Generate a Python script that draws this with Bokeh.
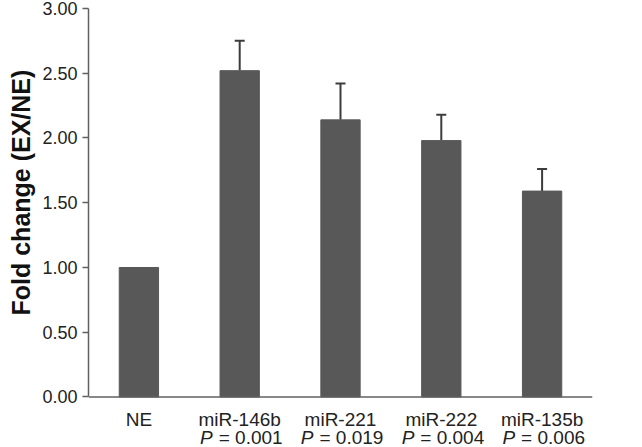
from bokeh.plotting import figure
from bokeh.models import (ColumnDataSource, FactorRange, Range1d, FixedTicker,
                          NumeralTickFormatter, Whisker, TeeHead, Span, Title)
from bokeh.core.properties import value
from bokeh.embed import file_html
from bokeh.resources import INLINE

categories = ["NE", "miR-146b", "miR-221", "miR-222", "miR-135b"]
means = [1.00, 2.52, 2.14, 1.98, 1.59]
errors = [0.0, 0.23, 0.28, 0.20, 0.17]
p_values = ["", "0.001", "0.019", "0.004", "0.006"]
y_ticks = [0.0, 0.5, 1.0, 1.5, 2.0, 2.5, 3.0]

FONT = "Liberation Sans"
BAR = "#585858"
TXT = "#222222"

upper = [m + e for m, e in zip(means, errors)]
src = ColumnDataSource(dict(cat=categories, mean=means, upper=upper,
                            zero=[0.0] * len(categories)))
err_idx = [i for i, e in enumerate(errors) if e > 0]
err_src = ColumnDataSource(dict(cat=[categories[i] for i in err_idx],
                                mean=[means[i] for i in err_idx],
                                upper=[upper[i] for i in err_idx]))
p_src = ColumnDataSource(dict(cat=[categories[i] for i in err_idx],
                              zero=[0.0] * len(err_idx),
                              ptxt=["= " + p_values[i] for i in err_idx],
                              pchar=["P"] * len(err_idx)))

p = figure(x_range=FactorRange(*categories, range_padding=0),
           y_range=Range1d(-0.39, 3),
           width=626, height=447, output_backend="svg", toolbar_location=None,
           min_border_left=80, min_border_right=34, min_border_top=8,
           min_border_bottom=0)
p.outline_line_color = None
p.xgrid.grid_line_color = None
p.ygrid.grid_line_color = None
p.xaxis.visible = False

p.vbar(x="cat", top="mean", width=0.39, source=src, fill_color=BAR,
       line_color=BAR)

w = Whisker(source=err_src, base="cat", lower="mean", upper="upper",
            dimension="height", line_color="#3c3c3c", line_width=2,
            upper_head=TeeHead(size=10, line_color="#3c3c3c", line_width=2),
            lower_head=None, level="underlay")
p.add_layout(w)

# x axis line at zero
p.add_layout(Span(location=0, dimension="width", line_color="#606060",
                  line_width=1.5))

# category labels and P values
p.text(x="cat", y="zero", text="cat", source=src, text_align="center",
       text_baseline="middle", y_offset=23, text_font=value(FONT),
       text_font_size="19px", text_color=TXT)
p.text(x="cat", y="zero", text="pchar", source=p_src, text_align="right",
       text_baseline="middle", x_offset=-27, y_offset=41,
       text_font=value(FONT), text_font_style="italic",
       text_font_size="19px", text_color=TXT)
p.text(x="cat", y="zero", text="ptxt", source=p_src, text_align="left",
       text_baseline="middle", x_offset=-21, y_offset=41,
       text_font=value(FONT), text_font_size="19px", text_color=TXT)

ya = p.yaxis[0]
ya.bounds = (0, 3)
ya.ticker = FixedTicker(ticks=y_ticks)
ya.formatter = NumeralTickFormatter(format="0.00")
ya.minor_tick_line_color = None
ya.major_tick_in = 0
ya.major_tick_out = 6
ya.major_label_standoff = 5
ya.axis_line_color = "#606060"
ya.major_tick_line_color = "#606060"
ya.axis_line_width = 1.5
ya.major_tick_line_width = 1.5
ya.major_label_text_font = FONT
ya.major_label_text_font_size = "18px"
ya.major_label_text_color = TXT

ylab = Title(text="Fold change (EX/NE)", align="left", offset=132,
             text_font=FONT, text_font_style="bold", text_font_size="25px",
             text_color="#111111", standoff=9)
p.add_layout(ylab, "left")

open("out.html", "w").write(file_html(p, INLINE))
